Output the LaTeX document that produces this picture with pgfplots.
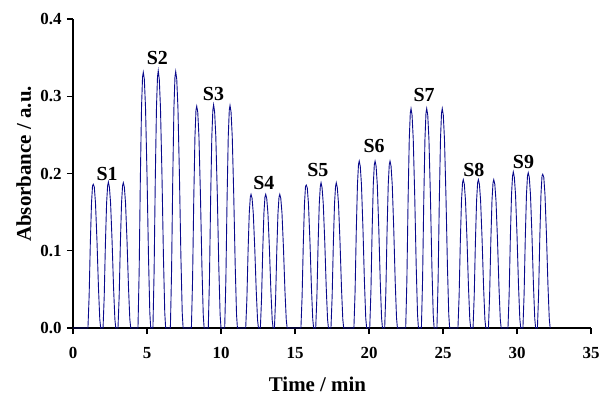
\documentclass[border=0pt]{standalone}
\usepackage{pgfplots}
\pgfplotsset{compat=1.18}
\usepackage{fontspec}
\setmainfont{Liberation Serif}

\definecolor{trace}{RGB}{10,10,140}

\begin{document}
\begin{tikzpicture}
\path[use as bounding box] (-73bp,-66bp) rectangle (527bp,328bp);
\begin{axis}[
  at={(0,0)}, anchor=south west,
  scale only axis, width=518bp, height=309bp,
  xmin=0, xmax=35, ymin=0, ymax=0.4,
  axis x line*=bottom, axis y line*=left,
  axis line style={black, line width=1.2bp},
  clip=false,
  xtick={0,5,10,15,20,25,30,35},
  ytick={0,0.1,0.2,0.3,0.4},
  tick align=outside,
  major tick length=6bp,
  tick style={black, line width=1.2bp},
  /pgf/number format/assume math mode=true,
  ticklabel style={font=\fontsize{17}{20}\selectfont\bfseries},
  xticklabel style={yshift=-10bp},
  yticklabel style={xshift=-2bp, /pgf/number format/.cd, fixed, fixed zerofill, precision=1},
  xlabel={Time / min},
  ylabel={Absorbance / a.u.},
  label style={font=\fontsize{21}{24}\selectfont\bfseries},
  xlabel style={at={(axis description cs:0.472,0)}, anchor=base, yshift=-63bp},
  ylabel style={at={(axis description cs:0,0.531)}, rotate=0, anchor=base, yshift=42bp},
]
\addplot[trace, line width=0.9bp] coordinates {
(0,0)
% S1
(1.01,0) (1.09,0.0414) (1.17,0.1090) (1.25,0.1617) (1.32,0.1842) (1.37,0.186) (1.44,0.1824) (1.52,0.1617) (1.62,0.1128) (1.72,0.0526) (1.81,0.0113) (1.87,0)
(2.03,0) (2.11,0.0414) (2.19,0.1090) (2.27,0.1617) (2.34,0.1842) (2.39,0.189) (2.46,0.1824) (2.54,0.1617) (2.64,0.1128) (2.74,0.0526) (2.83,0.0113) (2.89,0)
(3.04,0) (3.12,0.0414) (3.20,0.1090) (3.28,0.1617) (3.35,0.1842) (3.40,0.188) (3.47,0.1824) (3.55,0.1617) (3.65,0.1128) (3.75,0.0526) (3.84,0.0113) (3.90,0)
% S2
(4.39,0) (4.47,0.0730) (4.55,0.1926) (4.63,0.2855) (4.70,0.3254) (4.75,0.331) (4.82,0.3220) (4.90,0.2855) (5.00,0.1992) (5.10,0.0930) (5.19,0.0199) (5.25,0)
(5.40,0) (5.48,0.0730) (5.56,0.1926) (5.64,0.2855) (5.71,0.3254) (5.76,0.333) (5.83,0.3220) (5.91,0.2855) (6.01,0.1992) (6.11,0.0930) (6.20,0.0199) (6.26,0)
(6.58,0) (6.66,0.0730) (6.74,0.1926) (6.82,0.2855) (6.89,0.3254) (6.94,0.332) (7.01,0.3220) (7.09,0.2855) (7.19,0.1992) (7.29,0.0930) (7.38,0.0199) (7.44,0)
% S3
(8.00,0) (8.08,0.0634) (8.16,0.1670) (8.24,0.2477) (8.31,0.2822) (8.36,0.287) (8.43,0.2794) (8.51,0.2477) (8.61,0.1728) (8.71,0.0806) (8.80,0.0173) (8.86,0)
(9.14,0) (9.22,0.0634) (9.30,0.1670) (9.38,0.2477) (9.45,0.2822) (9.50,0.289) (9.57,0.2794) (9.65,0.2477) (9.75,0.1728) (9.85,0.0806) (9.94,0.0173) (10.00,0)
(10.25,0) (10.33,0.0634) (10.41,0.1670) (10.49,0.2477) (10.56,0.2822) (10.61,0.288) (10.68,0.2794) (10.76,0.2477) (10.86,0.1728) (10.96,0.0806) (11.05,0.0173) (11.11,0)
% S4
(11.67,0) (11.75,0.0381) (11.83,0.1003) (11.91,0.1488) (11.98,0.1695) (12.03,0.173) (12.10,0.1678) (12.18,0.1488) (12.28,0.1038) (12.38,0.0484) (12.47,0.0104) (12.53,0)
(12.66,0) (12.74,0.0381) (12.82,0.1003) (12.90,0.1488) (12.97,0.1695) (13.02,0.173) (13.09,0.1678) (13.17,0.1488) (13.27,0.1038) (13.37,0.0484) (13.46,0.0104) (13.52,0)
(13.61,0) (13.69,0.0381) (13.77,0.1003) (13.85,0.1488) (13.92,0.1695) (13.97,0.173) (14.04,0.1678) (14.12,0.1488) (14.22,0.1038) (14.32,0.0484) (14.41,0.0104) (14.47,0)
% S5
(15.40,0) (15.48,0.0411) (15.56,0.1085) (15.64,0.1608) (15.71,0.1833) (15.76,0.185) (15.83,0.1814) (15.91,0.1608) (16.01,0.1122) (16.11,0.0524) (16.20,0.0112) (16.26,0)
(16.40,0) (16.48,0.0411) (16.56,0.1085) (16.64,0.1608) (16.71,0.1833) (16.76,0.188) (16.83,0.1814) (16.91,0.1608) (17.01,0.1122) (17.11,0.0524) (17.20,0.0112) (17.26,0)
(17.43,0) (17.51,0.0411) (17.59,0.1085) (17.67,0.1608) (17.74,0.1833) (17.79,0.188) (17.86,0.1814) (17.94,0.1608) (18.04,0.1122) (18.14,0.0524) (18.23,0.0112) (18.29,0)
% S6
(18.98,0) (19.06,0.0475) (19.14,0.1253) (19.22,0.1858) (19.29,0.2117) (19.34,0.216) (19.41,0.2095) (19.49,0.1858) (19.59,0.1296) (19.69,0.0605) (19.78,0.0130) (19.84,0)
(20.05,0) (20.13,0.0475) (20.21,0.1253) (20.29,0.1858) (20.36,0.2117) (20.41,0.216) (20.48,0.2095) (20.56,0.1858) (20.66,0.1296) (20.76,0.0605) (20.85,0.0130) (20.91,0)
(21.06,0) (21.14,0.0475) (21.22,0.1253) (21.30,0.1858) (21.37,0.2117) (21.42,0.216) (21.49,0.2095) (21.57,0.1858) (21.67,0.1296) (21.77,0.0605) (21.86,0.0130) (21.92,0)
% S7
(22.48,0) (22.56,0.0625) (22.64,0.1647) (22.72,0.2442) (22.79,0.2783) (22.84,0.284) (22.91,0.2755) (22.99,0.2442) (23.09,0.1704) (23.19,0.0795) (23.28,0.0170) (23.34,0)
(23.54,0) (23.62,0.0625) (23.70,0.1647) (23.78,0.2442) (23.85,0.2783) (23.90,0.284) (23.97,0.2755) (24.05,0.2442) (24.15,0.1704) (24.25,0.0795) (24.34,0.0170) (24.40,0)
(24.59,0) (24.67,0.0625) (24.75,0.1647) (24.83,0.2442) (24.90,0.2783) (24.95,0.284) (25.02,0.2755) (25.10,0.2442) (25.20,0.1704) (25.30,0.0795) (25.39,0.0170) (25.45,0)
% S8
(26.01,0) (26.09,0.0422) (26.17,0.1114) (26.25,0.1651) (26.32,0.1882) (26.37,0.192) (26.44,0.1862) (26.52,0.1651) (26.62,0.1152) (26.72,0.0538) (26.81,0.0115) (26.87,0)
(27.03,0) (27.11,0.0422) (27.19,0.1114) (27.27,0.1651) (27.34,0.1882) (27.39,0.192) (27.46,0.1862) (27.54,0.1651) (27.64,0.1152) (27.74,0.0538) (27.83,0.0115) (27.89,0)
(28.07,0) (28.15,0.0422) (28.23,0.1114) (28.31,0.1651) (28.38,0.1882) (28.43,0.192) (28.50,0.1862) (28.58,0.1651) (28.68,0.1152) (28.78,0.0538) (28.87,0.0115) (28.93,0)
% S9
(29.39,0) (29.47,0.0442) (29.55,0.1166) (29.63,0.1729) (29.70,0.1970) (29.75,0.202) (29.82,0.1950) (29.90,0.1729) (30.00,0.1206) (30.10,0.0563) (30.19,0.0121) (30.25,0)
(30.40,0) (30.48,0.0442) (30.56,0.1166) (30.64,0.1729) (30.71,0.1970) (30.76,0.201) (30.83,0.1950) (30.91,0.1729) (31.01,0.1206) (31.11,0.0563) (31.20,0.0121) (31.26,0)
(31.38,0) (31.46,0.0442) (31.54,0.1166) (31.62,0.1729) (31.69,0.1970) (31.74,0.199) (31.81,0.1950) (31.89,0.1729) (31.99,0.1206) (32.09,0.0563) (32.18,0.0121) (32.24,0)
};
% sample labels above each triplet of injections
\begin{scope}[every node/.style={font=\fontsize{20}{24}\selectfont\bfseries, anchor=base, inner sep=0pt}]
\node at (axis cs:2.30,0.1913) {S1};
\node at (axis cs:5.70,0.3407) {S2};
\node at (axis cs:9.49,0.2939) {S3};
\node at (axis cs:12.89,0.1792) {S4};
\node at (axis cs:16.55,0.1965) {S5};
\node at (axis cs:20.34,0.2269) {S6};
\node at (axis cs:23.72,0.2931) {S7};
\node at (axis cs:27.09,0.1965) {S8};
\node at (axis cs:30.44,0.2061) {S9};
\end{scope}
\end{axis}
\end{tikzpicture}
\end{document}
